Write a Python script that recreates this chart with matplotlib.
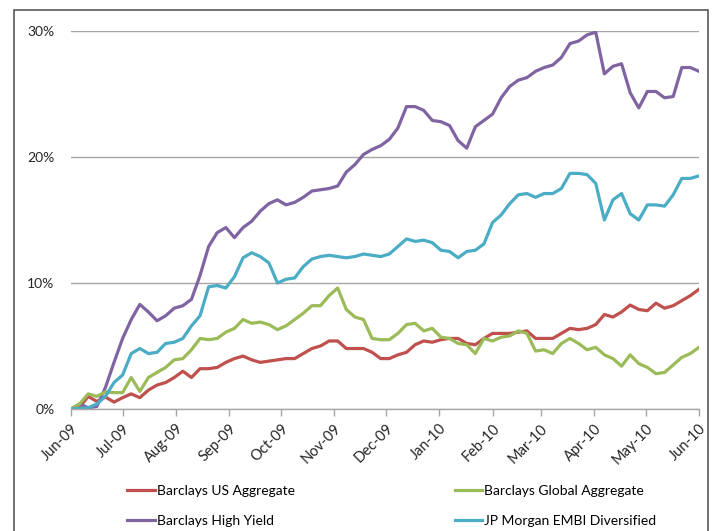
import matplotlib
matplotlib.use("Agg")
import matplotlib.pyplot as plt
import matplotlib.dates as mdates
import matplotlib.ticker as mticker
import pandas as pd
from matplotlib.patches import Rectangle

plt.rcParams["font.family"] = ["Lato", "DejaVu Sans"]

# cumulative return (%), sampled every 5 days from 1 Jun 2009
dates = pd.date_range("2009-06-01", periods=74, freq="5D")

us_agg = [0.0, 0.15, 1.0, 0.6, 0.95, 0.55, 0.9, 1.2, 0.9, 1.5,
          1.9, 2.1, 2.5, 3.0, 2.5, 3.2, 3.2, 3.3, 3.7, 4.0,
          4.2, 3.9, 3.7, 3.8, 3.9, 4.0, 4.0, 4.4, 4.8, 5.0,
          5.4, 5.4, 4.8, 4.8, 4.8, 4.5, 4.0, 4.0, 4.3, 4.5,
          5.1, 5.4, 5.3, 5.5, 5.6, 5.6, 5.2, 5.1, 5.6, 6.0,
          6.0, 6.0, 6.1, 6.2, 5.6, 5.6, 5.6, 6.0, 6.4, 6.3,
          6.4, 6.7, 7.5, 7.3, 7.7, 8.25, 7.9, 7.8, 8.4, 8.0,
          8.2, 8.6, 9.0, 9.5]

global_agg = [0.0, 0.4, 1.2, 1.0, 1.35, 1.3, 1.3, 2.5, 1.4, 2.5,
              2.9, 3.3, 3.9, 4.0, 4.7, 5.6, 5.5, 5.6, 6.1, 6.4,
              7.1, 6.8, 6.9, 6.7, 6.3, 6.6, 7.1, 7.6, 8.2, 8.2,
              9.0, 9.6, 7.9, 7.3, 7.1, 5.6, 5.5, 5.5, 6.0, 6.7,
              6.8, 6.2, 6.4, 5.7, 5.6, 5.2, 5.1, 4.4, 5.6, 5.4,
              5.7, 5.8, 6.2, 6.0, 4.6, 4.7, 4.4, 5.2, 5.6, 5.2,
              4.7, 4.9, 4.3, 4.0, 3.4, 4.3, 3.6, 3.3, 2.8, 2.9,
              3.5, 4.1, 4.4, 4.9]

high_yield = [0.0, 0.4, 0.1, 0.2, 1.7, 3.7, 5.6, 7.1, 8.3, 7.7,
              7.0, 7.4, 8.0, 8.2, 8.7, 10.6, 12.9, 14.0, 14.4, 13.6,
              14.4, 14.9, 15.7, 16.3, 16.6, 16.2, 16.4, 16.8, 17.3, 17.4,
              17.5, 17.7, 18.8, 19.4, 20.2, 20.6, 20.9, 21.4, 22.3, 24.0,
              24.0, 23.7, 22.9, 22.8, 22.5, 21.3, 20.7, 22.4, 22.9, 23.4,
              24.7, 25.6, 26.1, 26.3, 26.8, 27.1, 27.3, 27.9, 29.0, 29.2,
              29.7, 29.9, 26.6, 27.2, 27.4, 25.1, 23.9, 25.2, 25.2, 24.7,
              24.8, 27.1, 27.1, 26.8]

embi = [0.0, 0.05, 0.1, 0.4, 1.0, 2.1, 2.7, 4.4, 4.8, 4.4,
        4.5, 5.2, 5.3, 5.6, 6.6, 7.4, 9.7, 9.8, 9.6, 10.5,
        12.0, 12.4, 12.1, 11.6, 10.0, 10.3, 10.4, 11.3, 11.9, 12.1,
        12.2, 12.1, 12.0, 12.1, 12.3, 12.2, 12.1, 12.3, 12.9, 13.5,
        13.3, 13.4, 13.2, 12.6, 12.5, 12.0, 12.5, 12.6, 13.1, 14.8,
        15.4, 16.3, 17.0, 17.1, 16.8, 17.1, 17.1, 17.5, 18.7, 18.7,
        18.6, 17.9, 15.0, 16.6, 17.1, 15.5, 15.0, 16.2, 16.2, 16.1,
        17.0, 18.3, 18.3, 18.5]

series = [
    ("Barclays US Aggregate", us_agg, "#C0504D"),
    ("Barclays High Yield", high_yield, "#8064A2"),
    ("Barclays Global Aggregate", global_agg, "#9BBB59"),
    ("JP Morgan EMBI Diversified", embi, "#4BACC6"),
]

fig = plt.figure(figsize=(7.13, 5.31), dpi=100)
# outer chart frame
fig.patches.append(Rectangle((14 / 713, -0.05), (708 - 14) / 713, 1.05 - 10 / 531,
                             transform=fig.transFigure, fill=False,
                             edgecolor="#595959", linewidth=1.2))

ax = fig.add_axes([71 / 713, 122 / 531, 628 / 713, 378 / 531])

handles = []
for name, vals, col in series:
    h, = ax.plot(dates, vals, color=col, lw=2.3, label=name, solid_joinstyle="round")
    handles.append(h)

ax.set_xlim(pd.Timestamp("2009-06-01"), pd.Timestamp("2010-06-01"))
ax.set_ylim(0, 30)
ax.set_yticks([0, 10, 20, 30])
ax.yaxis.set_major_formatter(mticker.FuncFormatter(lambda v, p: f"{v:.0f}%"))
ax.xaxis.set_major_locator(mdates.MonthLocator())
ax.xaxis.set_major_formatter(mdates.DateFormatter("%b-%y"))

ax.grid(axis="y", color="#A6A6A6", lw=1)
ax.set_axisbelow(True)
for s in ["left", "right", "top"]:
    ax.spines[s].set_visible(False)
ax.spines["bottom"].set_color("#A6A6A6")
ax.spines["bottom"].set_linewidth(1)

ax.tick_params(axis="y", length=0, pad=12, labelsize=10, labelcolor="#262626")
ax.tick_params(axis="x", length=5, width=1, color="#A6A6A6", direction="out",
               pad=4, labelsize=10.5, labelcolor="#262626")
for lab in ax.get_xticklabels():
    lab.set_rotation(45)
    lab.set_ha("right")
    lab.set_rotation_mode("anchor")

fig.legend(handles=handles, loc="upper left", ncol=2,
           bbox_to_anchor=(127 / 713, (531 - 485) / 531),
           frameon=False, fontsize=10, handlelength=2.0, handletextpad=0.15,
           borderpad=0, borderaxespad=0, labelspacing=1.3, columnspacing=11.5)

fig.savefig("out.png", dpi=100)
